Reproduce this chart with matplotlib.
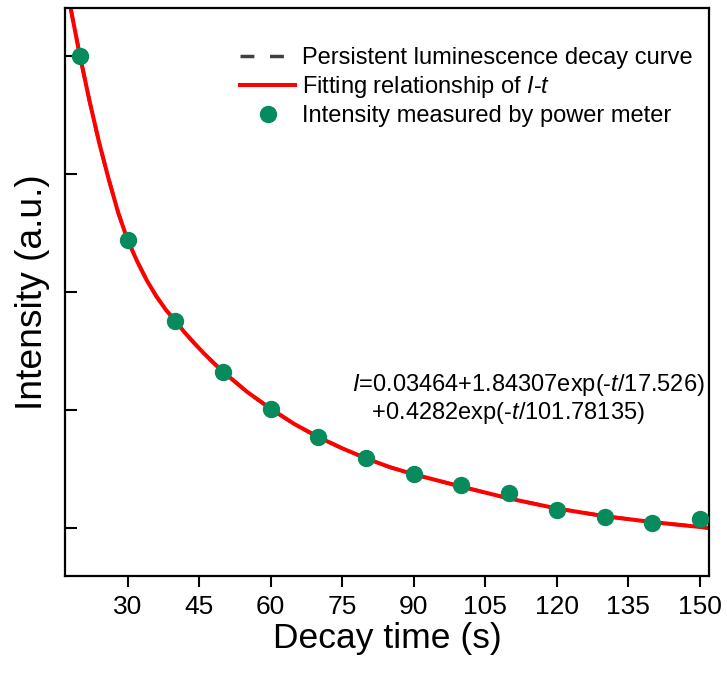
import matplotlib
matplotlib.use("Agg")
import matplotlib.pyplot as plt

plt.rcParams['font.family'] = ['Liberation Sans', 'DejaVu Sans']
plt.rcParams['mathtext.fontset'] = 'custom'
plt.rcParams['mathtext.rm'] = 'Liberation Sans'
plt.rcParams['mathtext.it'] = 'Liberation Sans:italic'

### power meter readings
time_s = [20, 30, 40, 50, 60, 70, 80, 90, 100, 110, 120, 130, 140, 150]
power_meter = [1.000, 0.688, 0.551, 0.465, 0.402, 0.354, 0.319, 0.291,
               0.272, 0.259, 0.231, 0.218, 0.208, 0.215]

### decay curve / fitted curve, sampled along the drawn line
curve_t = [18.05, 20, 22, 24, 26, 28, 30, 32, 34, 36, 38, 40, 42, 44, 46, 48,
           50, 55, 60, 65, 70, 75, 80, 85, 90, 100, 110, 120, 130, 140, 150, 151.9]
curve_I = [1.081, 1.000, 0.924, 0.854, 0.792, 0.735, 0.688, 0.652, 0.620, 0.593,
           0.570, 0.551, 0.531, 0.513, 0.496, 0.480, 0.465, 0.431, 0.402, 0.376,
           0.354, 0.335, 0.318, 0.303, 0.291, 0.270, 0.250, 0.233, 0.220, 0.210,
           0.2017, 0.200]

x_ticks = [30, 45, 60, 75, 90, 105, 120, 135, 150]
y_ticks = [0.2, 0.4, 0.6, 0.8, 1.0]

fig = plt.figure(figsize=(7.27, 6.75), dpi=100)
ax = fig.add_axes([0.0894, 0.1467, 0.8858, 0.8413])

ax.plot(curve_t, curve_I, color="#404040", lw=2.5, ls=(0, (4, 4.5)),
        label="Persistent luminescence decay curve")
ax.plot(curve_t, curve_I, color="#ff0000", lw=2.9,
        label="Fitting relationship of $I$-$t$")
ax.plot(time_s, power_meter, ls="none", marker="o", ms=11.5, color="#078a5c",
        label="Intensity measured by power meter", zorder=3)

ax.set_xlim(16.86, 151.9)
ax.set_ylim(0.1186, 1.0814)
ax.set_xticks(x_ticks)
ax.set_yticks(y_ticks)
ax.set_yticklabels([])

ax.tick_params(axis="x", direction="out", length=8, width=1.5, labelsize=19, pad=6)
ax.tick_params(axis="y", direction="in", length=8.6, width=1.5)
for sp in ax.spines.values():
    sp.set_linewidth(1.6)

ax.set_xlabel("Decay time (s)", fontsize=25.5, labelpad=2)
ax.set_ylabel("Intensity (a.u.)", fontsize=26.8, labelpad=7)

ax.text(0.446, 0.312, "$I$=0.03464+1.84307exp(-$t$/17.526)\n   +0.4282exp(-$t$/101.78135)",
        transform=ax.transAxes, ha="left", va="center", multialignment="left",
        fontsize=17, linespacing=1.1)

ax.legend(loc="upper right", bbox_to_anchor=(1.0, 0.96), frameon=False, fontsize=17,
          handlelength=2.3, handletextpad=0.3, labelspacing=0.2, borderaxespad=0.3,
          numpoints=1)

fig.savefig("out.png", dpi=100)
